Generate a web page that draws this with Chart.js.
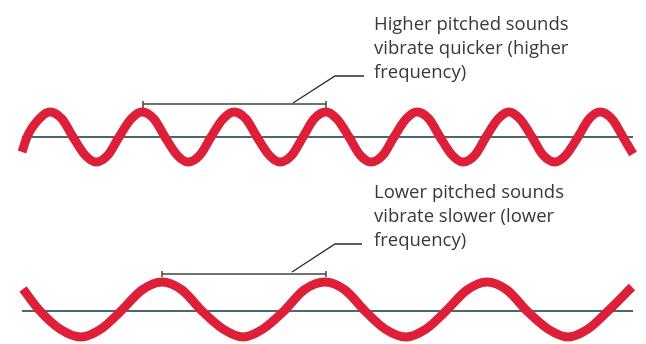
<!DOCTYPE html>
<html>
<head>
<meta charset="utf-8">
<script src="https://cdn.jsdelivr.net/npm/chart.js@4.4.1/dist/chart.umd.min.js"></script>
<style>
  html, body { margin: 0; padding: 0; background: #ffffff; }
  #waves { display: block; }
</style>
</head>
<body>
<canvas id="waves" width="646" height="344"></canvas>
<script>
// --- data (x along the page, y as displacement, page units) ---
// high pitched wave: peak / crossing / trough points, every eighth of a period
const highWaveX = [22, 27, 39, 50, 62, 73, 85, 96, 108, 119, 131, 142, 154, 165, 177, 188, 200, 211, 223, 234, 246, 257, 269, 280, 292, 303, 314, 326, 337, 349, 360, 371, 383, 394, 406, 417, 429, 440, 452, 463, 475, 486, 498, 509, 520, 532, 543, 555, 566, 578, 589, 600, 612, 623, 633];
const highWaveY = [152, 137, 119, 112, 119, 137, 155, 162, 155, 137, 119, 112, 119, 137, 155, 162, 155, 137, 119, 112, 119, 137, 155, 162, 155, 137, 119, 112, 119, 137, 155, 162, 155, 137, 119, 112, 119, 137, 155, 162, 155, 137, 119, 112, 119, 137, 155, 162, 155, 137, 119, 112, 119, 137, 154];

// low pitched wave
const lowWaveX = [23, 40, 60, 81, 101, 121, 142, 162, 182, 202, 223, 243, 263, 284, 304, 325, 345, 365, 385, 406, 426, 446, 467, 487, 507, 527, 548, 568, 588, 608, 632];
const lowWaveY = [289, 311, 329, 337, 329, 311, 290, 282, 290, 311, 329, 337, 329, 311, 290, 282, 290, 311, 329, 337, 329, 311, 290, 282, 290, 311, 329, 337, 329, 311, 287];

// rest lines (x start/end) and their level
const restLineX = [22, 633];
const highRestY = 137;
const lowRestY = 311;

// wavelength brackets: [start peak, end peak] and bracket level
const highBracketX = [143, 326];
const highBracketY = 104;
const lowBracketX = [162, 326];
const lowBracketY = 274;

// leader lines from bracket to caption
const highLeaderX = [293, 335, 364];
const highLeaderY = [103, 76, 76];
const lowLeaderX = [292, 335, 362];
const lowLeaderY = [272, 244, 244];

// captions
const highCaption = ['Higher pitched sounds', 'vibrate quicker (higher', 'frequency)'];
const lowCaption = ['Lower pitched sounds', 'vibrate slower (lower', 'frequency)'];

function zip(xs, ys) {
    return xs.map((x, i) => ({ x: x, y: ys[i] }));
}

// bracket with small end ticks, drawn as one path
function bracket(xs, y, up, down) {
    return [
        { x: xs[0], y: y - up }, { x: xs[0], y: y + down }, { x: xs[0], y: y },
        { x: xs[1], y: y }, { x: xs[1], y: y + down }, { x: xs[1], y: y - up }
    ];
}

const WAVE_RED = '#dd1f38';
const REST_GREY = '#4b6870';
const INK = '#2a2a2a';

// plugin: caption text, placed through the chart scales
const captionPlugin = {
    id: 'captions',
    afterDatasetsDraw(chart, args, opts) {
        const { ctx, scales } = chart;
        ctx.save();
        ctx.fillStyle = opts.color;
        ctx.font = opts.font;
        ctx.textBaseline = 'alphabetic';
        ctx.textAlign = 'left';
        opts.blocks.forEach(b => {
            const px = scales.x.getPixelForValue(b.x);
            b.lines.forEach((line, i) => {
                const py = scales.y.getPixelForValue(b.y + i * opts.lineHeight);
                ctx.fillText(line, px, py);
            });
        });
        ctx.restore();
    }
};

const lineBase = { showLine: true, pointRadius: 0, pointHoverRadius: 0, fill: false };

new Chart(document.getElementById('waves'), {
    type: 'scatter',
    data: {
        datasets: [
            { ...lineBase, label: 'high', data: zip(highWaveX, highWaveY), borderColor: WAVE_RED, borderWidth: 9, cubicInterpolationMode: 'monotone', borderCapStyle: 'butt', order: 0 },
            { ...lineBase, label: 'low', data: zip(lowWaveX, lowWaveY), borderColor: WAVE_RED, borderWidth: 9, cubicInterpolationMode: 'monotone', borderCapStyle: 'butt', order: 0 },
            { ...lineBase, label: 'rest high', data: zip(restLineX, [highRestY, highRestY]), borderColor: REST_GREY, borderWidth: 2, order: 1 },
            { ...lineBase, label: 'rest low', data: zip(restLineX, [lowRestY, lowRestY]), borderColor: REST_GREY, borderWidth: 2, order: 1 },
            { ...lineBase, label: 'bracket high', data: bracket(highBracketX, highBracketY, 3, 4), borderColor: '#444', borderWidth: 1.5, borderJoinStyle: 'bevel', order: 1 },
            { ...lineBase, label: 'bracket low', data: bracket(lowBracketX, lowBracketY, 3, 3), borderColor: '#444', borderWidth: 1.5, borderJoinStyle: 'bevel', order: 1 },
            { ...lineBase, label: 'leader high', data: zip(highLeaderX, highLeaderY), borderColor: INK, borderWidth: 1.3, order: 1 },
            { ...lineBase, label: 'leader low', data: zip(lowLeaderX, lowLeaderY), borderColor: INK, borderWidth: 1.3, order: 1 }
        ]
    },
    options: {
        responsive: false,
        animation: false,
        events: [],
        layout: { padding: 0 },
        scales: {
            x: { type: 'linear', min: 0, max: 646, display: false },
            y: { type: 'linear', min: 0, max: 344, reverse: true, display: false }
        },
        plugins: {
            legend: { display: false },
            tooltip: { enabled: false },
            captions: {
                font: '18.5px "Open Sans"',
                color: '#383838',
                lineHeight: 24,
                blocks: [
                    { x: 374, y: 30, lines: highCaption },
                    { x: 374, y: 198, lines: lowCaption }
                ]
            }
        }
    },
    plugins: [captionPlugin]
});
</script>
</body>
</html>
